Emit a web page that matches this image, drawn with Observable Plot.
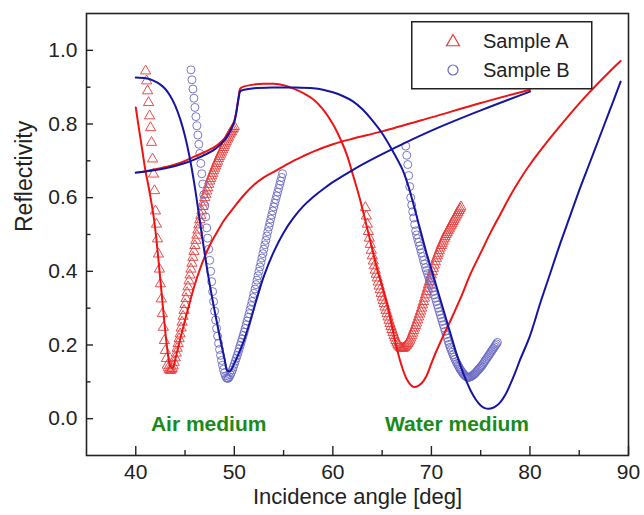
<!DOCTYPE html>
<html>
<head>
<meta charset="utf-8">
<script src="https://cdn.jsdelivr.net/npm/d3@7"></script>
<script src="https://cdn.jsdelivr.net/npm/@observablehq/plot@0.6"></script>
<style>
  html, body { margin: 0; padding: 0; background: #fff; }
  #chart { position: relative; width: 644px; height: 515px; overflow: hidden; }
  #legend { position: absolute; left: 411px; top: 21px; }
</style>
</head>
<body>
<div id="chart"></div>
<script>
// ---------------- DATA ----------------
// Measured points are sampled every 0.1 deg, starting at the given angle.
const sampleStep = 0.1;

// Sample A, air medium (triangles)
const airA_start = 41.0;
const airA_R = [
  0.944,0.917,0.890,0.858,0.822,0.790,0.750,0.705,0.664,0.619,
  0.564,0.528,0.488,0.447,0.406,0.366,0.325,0.285,0.248,0.212,
  0.185,0.163,0.145,0.138,0.133,0.131,0.132,0.136,0.143,0.153,
  0.165,0.178,0.191,0.204,0.217,0.230,0.246,0.262,0.278,0.294,
  0.310,0.326,0.342,0.358,0.374,0.390,0.406,0.422,0.438,0.454,
  0.470,0.484,0.498,0.512,0.526,0.540,0.552,0.564,0.576,0.588,
  0.600,0.609,0.618,0.627,0.636,0.645,0.652,0.659,0.666,0.673,
  0.680,0.686,0.693,0.699,0.706,0.712,0.718,0.724,0.730,0.736,
  0.742,0.748,0.753,0.759,0.764,0.770,0.775,0.779,0.784,0.788,
  0.793];

// Sample B, air medium (circles)
const airB_start = 45.6;
const airB_R = [
  0.947,0.920,0.895,0.870,
  0.845,0.820,0.795,0.770,0.745,0.720,0.693,0.665,0.637,0.608,
  0.578,0.548,0.518,0.490,0.460,0.430,0.400,0.372,0.345,0.318,
  0.292,0.268,0.245,0.224,0.205,0.188,0.172,0.158,0.145,0.134,
  0.124,0.116,0.111,0.109,0.110,0.114,0.119,0.125,0.132,0.140,
  0.148,0.156,0.164,0.172,0.181,0.190,0.199,0.208,0.217,0.226,
  0.235,0.245,0.255,0.265,0.275,0.285,0.296,0.307,0.318,0.329,
  0.340,0.352,0.364,0.376,0.388,0.400,0.412,0.424,0.436,0.448,
  0.460,0.472,0.484,0.496,0.508,0.520,0.531,0.542,0.553,0.564,
  0.575,0.585,0.595,0.605,0.615,0.625,0.635,0.645,0.655,0.665];

// Sample A, water medium (triangles)
const waterA_start = 63.3;
const waterA_R = [
  0.573,0.550,0.528,0.508,0.490,0.473,0.457,
  0.442,0.428,0.415,0.403,0.392,0.382,0.371,0.360,0.350,0.340,
  0.330,0.321,0.312,0.303,0.294,0.285,0.276,0.267,0.258,0.250,
  0.242,0.234,0.226,0.219,0.212,0.206,0.201,0.197,0.194,0.192,
  0.191,0.191,0.192,0.194,0.197,0.200,0.204,0.208,0.213,0.219,
  0.225,0.232,0.239,0.246,0.253,0.260,0.268,0.276,0.284,0.292,
  0.300,0.309,0.318,0.327,0.336,0.345,0.354,0.363,0.372,0.381,
  0.390,0.399,0.408,0.417,0.426,0.435,0.442,0.449,0.456,0.463,
  0.470,0.476,0.482,0.488,0.494,0.500,0.505,0.510,0.515,0.520,
  0.525,0.530,0.535,0.540,0.545,0.550,0.555,0.560,0.565,0.570,
  0.575];

// Sample B, water medium (circles)
const waterB_start = 67.4;
const waterB_R = [
  0.740,0.715,0.690,0.660,0.630,0.600,
  0.580,0.562,0.545,0.527,0.510,0.499,0.489,0.479,0.469,0.460,
  0.450,0.440,0.430,0.420,0.410,0.402,0.394,0.386,0.378,0.370,
  0.362,0.354,0.345,0.336,0.327,0.318,0.309,0.300,0.291,0.282,
  0.273,0.264,0.255,0.246,0.237,0.228,0.219,0.210,0.202,0.194,
  0.187,0.180,0.173,0.167,0.161,0.155,0.150,0.145,0.140,0.135,
  0.131,0.127,0.123,0.120,0.117,0.115,0.113,0.112,0.112,0.113,
  0.114,0.116,0.118,0.120,0.122,0.125,0.128,0.131,0.134,0.137,
  0.140,0.143,0.147,0.151,0.155,0.159,0.163,0.167,0.171,0.175,
  0.179,0.183,0.187,0.191,0.195,0.199,0.203,0.207];

// Fitted curves (angle, reflectivity)
const fitAirA_deg = [40,40.25,40.5,40.75,41,41.25,41.5,41.75,42,42.25,42.5,42.75,43,43.25,43.5,43.75,44,44.5,45,45.5,46,46.5,47,47.5,48,49,50,51,52,53,54,55,56,57,58,60,62,65,70,75,80];
const fitAirA_R   = [0.845,0.800,0.757,0.713,0.670,0.637,0.600,0.560,0.510,0.445,0.375,0.305,0.235,0.178,0.143,0.138,0.160,0.215,0.268,0.318,0.365,0.405,0.440,0.470,0.495,0.540,0.575,0.608,0.635,0.655,0.670,0.685,0.700,0.713,0.725,0.745,0.760,0.780,0.818,0.857,0.893];

const fitAirB_deg = [40,41,41.5,42,42.5,43,43.5,44,44.5,45,45.5,46,46.5,47,47.5,48,48.5,49,49.3,49.6,50,50.5,51,51.5,52,52.5,53,54,55,56,57,58,59,60,62,65,70,75,80];
const fitAirB_R   = [0.926,0.924,0.921,0.915,0.907,0.895,0.876,0.850,0.814,0.767,0.705,0.628,0.537,0.447,0.365,0.293,0.225,0.163,0.130,0.130,0.150,0.180,0.214,0.255,0.300,0.345,0.387,0.453,0.505,0.545,0.577,0.602,0.623,0.642,0.675,0.718,0.782,0.837,0.888];

const fitWaterA_deg = [40,41,42,43,44,45,46,47,48,48.5,49,49.3,49.6,49.8,50,50.15,50.3,50.45,50.6,51,52,53,54,55,56,57,58,59,60,61,61.5,62,62.5,63,63.5,64,64.5,65,65.5,66,66.5,67,67.5,68,68.3,68.7,69,69.5,70,70.5,71,72,73,74,75,76,77,78,79,80,82,84,86,88,89.2];
const fitWaterA_R   = [0.668,0.672,0.677,0.683,0.690,0.700,0.712,0.724,0.738,0.748,0.761,0.771,0.784,0.795,0.808,0.826,0.851,0.876,0.896,0.902,0.907,0.909,0.909,0.905,0.896,0.884,0.867,0.840,0.800,0.745,0.710,0.665,0.620,0.570,0.515,0.460,0.405,0.360,0.312,0.250,0.190,0.142,0.107,0.089,0.086,0.090,0.096,0.116,0.150,0.183,0.213,0.270,0.330,0.395,0.450,0.505,0.555,0.605,0.650,0.690,0.760,0.825,0.885,0.940,0.971];

const fitWaterB_deg = [40,41,42,43,44,45,46,47,48,48.5,49,49.3,49.6,49.8,50,50.15,50.3,50.45,50.6,51,52,54,56,58,59,60,61,62,63,64,65,66,67,67.5,68,68.5,69,69.5,70,70.5,71,71.5,72,72.5,73,73.5,74,74.5,75,75.5,75.8,76.2,76.6,77,77.5,78,78.5,79,80,81,82,83,84,85,86,87,88,89.2];
const fitWaterB_R   = [0.668,0.671,0.675,0.680,0.686,0.694,0.704,0.716,0.731,0.742,0.756,0.767,0.781,0.793,0.806,0.823,0.847,0.872,0.889,0.893,0.897,0.899,0.899,0.897,0.893,0.886,0.876,0.862,0.840,0.810,0.775,0.730,0.680,0.645,0.600,0.550,0.500,0.450,0.405,0.360,0.315,0.270,0.225,0.180,0.140,0.105,0.075,0.052,0.036,0.028,0.027,0.029,0.035,0.045,0.065,0.093,0.125,0.160,0.225,0.310,0.390,0.470,0.545,0.620,0.690,0.760,0.830,0.915];

// Axis ticks and labels
const xMajorTicks = [40, 50, 60, 70, 80, 90];
const xMinorTicks = [45, 55, 65, 75, 85];
const yMajorTicks = [0.0, 0.2, 0.4, 0.6, 0.8, 1.0];
const yMinorTicks = [0.1, 0.3, 0.5, 0.7, 0.9];
const xTitle = "Incidence angle [deg]";
const yTitle = "Reflectivity";
const legendNames = ["Sample A", "Sample B"];
const noteText = ["Air medium", "Water medium"];
const noteAngle = [47.4, 72.6];
const noteR = [-0.014, -0.014];

// ---------------- STYLE ----------------
const FONT = 'Arial, "Liberation Sans", "Helvetica", sans-serif';
const RED_LINE = "#ee1414";
const BLUE_LINE = "#1515a2";
const RED_MK = "#e63a3a";
const BLUE_MK = "#6a6ac4";
const GREEN = "#1b8a1b";
const TRI_R = 3.8, CIR_R = 4.0;
const LEG_TRI_R = 4.8, LEG_CIR_R = 5.0;

const pts = (start, values) => values.map((r, i) => ({angle: +(start + i * sampleStep).toFixed(1), r}));
const curve = (deg, R) => deg.map((a, i) => ({angle: a, r: R[i]}));

const airA = pts(airA_start, airA_R);
const airB = pts(airB_start, airB_R);
const waterA = pts(waterA_start, waterA_R);
const waterB = pts(waterB_start, waterB_R);
const notes = noteText.map((t, i) => ({t, angle: noteAngle[i], r: noteR[i]}));

const W = 644, H = 515, ML = 86, MR = 16, MT = 13, MB = 60;
const frameH = H - MT - MB, frameW = W - ML - MR;

const chart = Plot.plot({
  width: W, height: H,
  marginLeft: ML, marginRight: MR, marginTop: MT, marginBottom: MB,
  style: {fontFamily: FONT, color: "#222", background: "#fff"},
  x: {domain: [35, 90]},
  y: {domain: [-0.1, 1.1]},
  marks: [
    // markers
    Plot.dot(airA, {x: "angle", y: "r", symbol: "triangle", r: TRI_R, stroke: RED_MK, strokeWidth: 0.9, fill: "none"}),
    Plot.dot(waterA, {x: "angle", y: "r", symbol: "triangle", r: TRI_R, stroke: RED_MK, strokeWidth: 0.9, fill: "none"}),
    Plot.dot(airB, {x: "angle", y: "r", symbol: "circle", r: CIR_R, stroke: BLUE_MK, strokeWidth: 0.9, fill: "none"}),
    Plot.dot(waterB, {x: "angle", y: "r", symbol: "circle", r: CIR_R, stroke: BLUE_MK, strokeWidth: 0.9, fill: "none"}),
    // fitted curves
    Plot.line(curve(fitWaterA_deg, fitWaterA_R), {x: "angle", y: "r", stroke: RED_LINE, strokeWidth: 2, curve: "catmull-rom"}),
    Plot.line(curve(fitAirA_deg, fitAirA_R), {x: "angle", y: "r", stroke: RED_LINE, strokeWidth: 2, curve: "catmull-rom"}),
    Plot.line(curve(fitWaterB_deg, fitWaterB_R), {x: "angle", y: "r", stroke: BLUE_LINE, strokeWidth: 2, curve: "catmull-rom"}),
    Plot.line(curve(fitAirB_deg, fitAirB_R), {x: "angle", y: "r", stroke: BLUE_LINE, strokeWidth: 2, curve: "catmull-rom"}),
    // annotations
    Plot.text(notes, {x: "angle", y: "r", text: "t", fill: GREEN, fontSize: 21, fontWeight: "bold", lineAnchor: "middle"}),
    // frame and inward ticks
    Plot.frame({stroke: "#222", strokeWidth: 1.6}),
    Plot.ruleX(xMajorTicks, {x: d => d, insetTop: frameH - 9, stroke: "#222", strokeWidth: 1.4}),
    Plot.ruleX(xMinorTicks, {x: d => d, insetTop: frameH - 5, stroke: "#222", strokeWidth: 1.4}),
    Plot.ruleY(yMajorTicks, {y: d => d, insetRight: frameW - 7, stroke: "#222", strokeWidth: 1.4}),
    Plot.ruleY(yMinorTicks, {y: d => d, insetRight: frameW - 4.5, stroke: "#222", strokeWidth: 1.4}),
    Plot.axisX(xMajorTicks, {tickSize: 0, tickPadding: 9, fontSize: 21, label: null, tickFormat: d3.format("d")}),
    Plot.axisY(yMajorTicks, {tickSize: 0, tickPadding: 9, fontSize: 21, label: null, tickFormat: d3.format(".1f")}),
    // axis titles
    Plot.text([xTitle], {text: d => d, frameAnchor: "bottom", dy: 41, fontSize: 22, lineAnchor: "middle"}),
    Plot.text([yTitle], {text: d => d, frameAnchor: "left", rotate: -90, dx: -62, dy: -2.5, fontSize: 23, lineAnchor: "middle"})
  ]
});
document.getElementById("chart").append(chart);

// ---------------- LEGEND ----------------
const lg = d3.select("#chart").append("svg").attr("id", "legend").attr("width", 183).attr("height", 70)
  .style("font-family", FONT);
lg.append("rect").attr("x", 0.75).attr("y", 0.75).attr("width", 180).attr("height", 67)
  .attr("fill", "#fff").attr("stroke", "#222").attr("stroke-width", 1.5);
lg.append("path").attr("transform", "translate(42,21)")
  .attr("d", d3.symbol(d3.symbolTriangle, LEG_TRI_R * LEG_TRI_R * Math.PI)())
  .attr("fill", "none").attr("stroke", RED_MK).attr("stroke-width", 1.2);
lg.append("circle").attr("cx", 42).attr("cy", 49).attr("r", LEG_CIR_R)
  .attr("fill", "none").attr("stroke", BLUE_MK).attr("stroke-width", 1.2);
legendNames.forEach((name, i) => {
  lg.append("text").attr("x", 72).attr("y", 20 + i * 29).attr("dy", "0.35em")
    .attr("font-size", 20).attr("fill", "#222").text(name);
});
</script>
</body>
</html>
